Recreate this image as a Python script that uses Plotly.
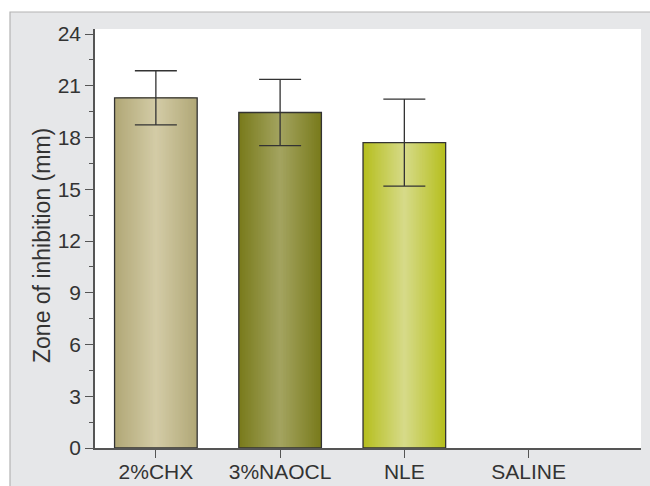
import plotly.graph_objects as go

# Zone of inhibition by irrigant (mean ± SD, mm)
groups = ["2%CHX", "3%NAOCL", "NLE", "SALINE"]
zone_mean = [20.3, 19.45, 17.7, 0.0]
zone_sd = [1.57, 1.92, 2.52, 0.0]

# edge / highlight colours used for the cylindrical shading of each bar
edge_colors = ["#b1a877", "#797b1c", "#b6bf1f"]
center_colors = ["#d3cba6", "#a3a35f", "#d6da88"]

BAR_W = 0.665
N_LAYERS = 28


def hex_to_rgb(h):
    h = h.lstrip("#")
    return tuple(int(h[i:i + 2], 16) for i in (0, 2, 4))


def blend(c1, c2, t):
    a, b = hex_to_rgb(c1), hex_to_rgb(c2)
    return "rgb({},{},{})".format(*[round(a[k] + (b[k] - a[k]) * t) for k in range(3)])


fig = go.Figure()

# stacked-in-place bars of shrinking width give a horizontal light-to-dark gradient
for i in range(N_LAYERS):
    frac = 1 - i / N_LAYERS
    t = i / (N_LAYERS - 1)
    colors = [blend(edge_colors[k], center_colors[k], t) for k in range(3)] + ["rgba(0,0,0,0)"]
    fig.add_trace(go.Bar(
        x=groups, y=zone_mean, width=BAR_W * frac,
        marker=dict(color=colors, line=dict(width=0)),
        showlegend=False, hoverinfo="skip",
    ))

# outline on top of the shading (none for an empty bar)
outline_colors = ["#333333" if m > 0 else "rgba(0,0,0,0)" for m in zone_mean]
fig.add_trace(go.Bar(
    x=groups, y=zone_mean, width=BAR_W,
    marker=dict(color="rgba(0,0,0,0)", line=dict(color=outline_colors, width=1.3)),
    showlegend=False,
))

# error bars (groups with a non-zero spread)
err_x = [g for g, s in zip(groups, zone_sd) if s > 0]
err_y = [m for m, s in zip(zone_mean, zone_sd) if s > 0]
err_s = [s for s in zone_sd if s > 0]
fig.add_trace(go.Scatter(
    x=err_x, y=err_y, mode="markers",
    marker=dict(size=1, color="rgba(0,0,0,0)"),
    error_y=dict(type="data", array=err_s, visible=True,
                 color="#333333", thickness=1.3, width=21),
    showlegend=False,
))

# page layout in pixels
W, H = 650, 486
L, R, T, B = 95, 641, 29, 448


def px_x(p):
    return (p - L) / (R - L)


def px_y(p):
    return (B - p) / (B - T)


fig.update_layout(
    width=W, height=H,
    margin=dict(l=L, r=W - R, t=T, b=H - B, autoexpand=False),
    paper_bgcolor="#ffffff",
    plot_bgcolor="#ffffff",
    barmode="overlay",
    font=dict(family="Liberation Sans, Arial, sans-serif", color="#333333", size=21),
    shapes=[
        # grey panel behind the chart
        dict(type="rect", xref="paper", yref="paper", layer="below",
             x0=px_x(10), x1=px_x(W + 20), y0=px_y(H + 20), y1=px_y(12),
             fillcolor="#e6e7e9", line=dict(color="#b4b4b4", width=1.2)),
        # white plotting area
        dict(type="rect", xref="paper", yref="paper", layer="below",
             x0=0, x1=1, y0=0, y1=1,
             fillcolor="#ffffff", line=dict(width=0)),
    ],
    annotations=[
        dict(text="Zone of inhibition (mm)", textangle=-90,
             xref="paper", yref="paper", x=px_x(42), y=px_y(246),
             xanchor="center", yanchor="middle", showarrow=False,
             font=dict(size=23, color="#333333")),
    ],
)

fig.update_xaxes(
    range=[-0.49, 3.905], automargin=False,
    showline=True, linecolor="#555555", linewidth=1.5,
    ticks="outside", ticklen=8, tickwidth=1.3, tickcolor="#555555",
    ticklabelstandoff=-4,
    showgrid=False, zeroline=False,
    tickfont=dict(size=21, color="#333333"),
)

fig.update_yaxes(
    range=[0, 24.29], automargin=False,
    tick0=0, dtick=3,
    showline=True, linecolor="#555555", linewidth=1.5,
    ticks="outside", ticklen=8, tickwidth=1.3, tickcolor="#555555",
    minor=dict(tick0=0, dtick=1.5, ticks="outside", ticklen=4,
               tickwidth=1.3, tickcolor="#555555"),
    showgrid=False, zeroline=False,
    tickfont=dict(size=21, color="#333333"),
)

fig.write_html("out.html")
